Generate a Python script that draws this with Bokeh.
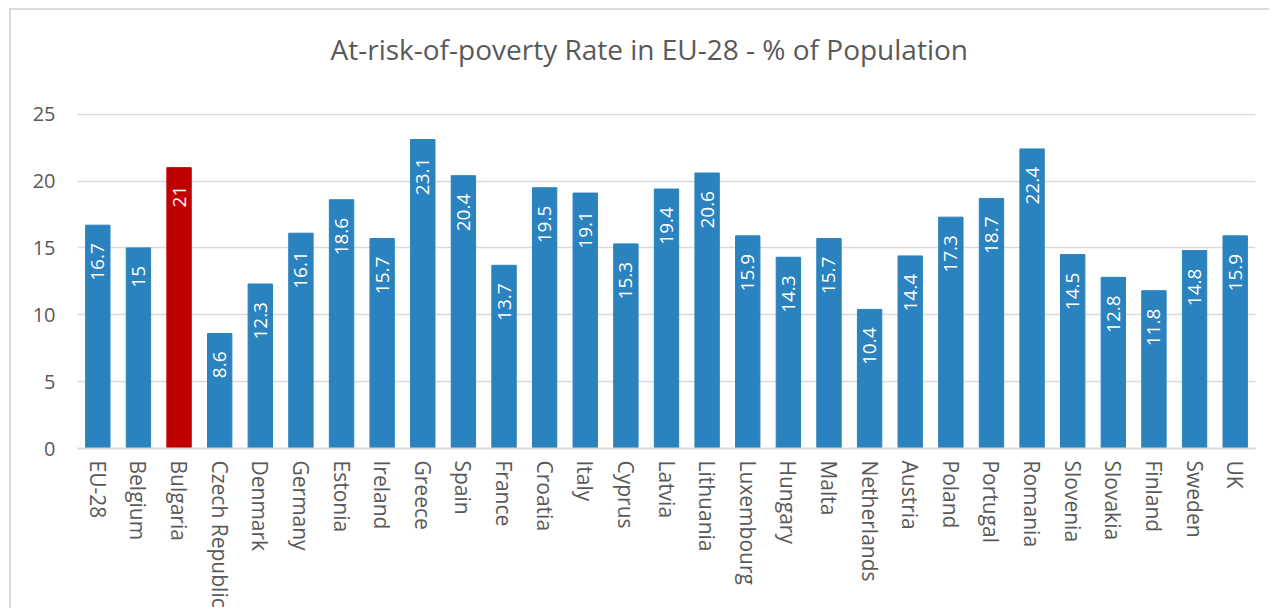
import math
from bokeh.plotting import figure
from bokeh.models import ColumnDataSource, FactorRange, Range1d, LabelSet, Title
from bokeh.core.properties import value
from bokeh.embed import file_html
from bokeh.resources import INLINE

countries = ["EU-28", "Belgium", "Bulgaria", "Czech Republic", "Denmark", "Germany",
             "Estonia", "Ireland", "Greece", "Spain", "France", "Croatia", "Italy",
             "Cyprus", "Latvia", "Lithuania", "Luxembourg", "Hungary", "Malta",
             "Netherlands", "Austria", "Poland", "Portugal", "Romania", "Slovenia",
             "Slovakia", "Finland", "Sweden", "UK"]
rates = [16.7, 15, 21, 8.6, 12.3, 16.1, 18.6, 15.7, 23.1, 20.4, 13.7, 19.5, 19.1,
         15.3, 19.4, 20.6, 15.9, 14.3, 15.7, 10.4, 14.4, 17.3, 18.7, 22.4, 14.5,
         12.8, 11.8, 14.8, 15.9]
highlight = "Bulgaria"
y_ticks = [0, 5, 10, 15, 20, 25]
title_text = "At-risk-of-poverty Rate in EU-28 - % of Population"

BLUE = "#2A82BE"
RED = "#C00000"
GREY_TXT = "#595959"
GRID = "#D9D9D9"
FONT = "Open Sans"

colors = [RED if c == highlight else BLUE for c in countries]
labels = [f"{v:g}" for v in rates]
src = ColumnDataSource(dict(x=countries, top=rates, color=colors, label=labels))

p = figure(width=1260, height=600, output_backend="svg", toolbar_location=None,
           x_range=FactorRange(*countries, range_padding=0),
           y_range=Range1d(0, 25.05),
           min_border_left=66, min_border_right=16, min_border_top=103,
           min_border_bottom=157, title=None)
p.styles = {"border-top": "2px solid #D9D9D9", "border-left": "2px solid #D9D9D9",
            "margin-left": "9px", "margin-top": "8px"}

spacer = Title(text=" ", text_font_size="1px", standoff=26)
main_title = Title(text=title_text, align="left", offset=253, vertical_align="middle",
                   text_font=FONT, text_font_size="28px", text_font_style="normal",
                   text_color=GREY_TXT, standoff=32)
p.add_layout(spacer, "above")
p.add_layout(main_title, "above")

p.vbar(x="x", top="top", width=0.6, color="color", source=src)

lbl = LabelSet(x="x", y="top", text="label", source=src, angle=math.pi / 2,
               text_align="right", text_baseline="middle", y_offset=-18,
               text_color="white", text_font_size="19px", text_font=value(FONT))
p.add_layout(lbl)

p.outline_line_color = None
p.xgrid.grid_line_color = None
p.ygrid.grid_line_color = GRID
p.ygrid.grid_line_width = 1.5
p.yaxis.ticker = y_ticks

p.yaxis.axis_line_color = None
p.yaxis.major_tick_line_color = None
p.yaxis.minor_tick_line_color = None
p.yaxis.major_tick_out = 0
p.yaxis.major_label_standoff = 22
p.yaxis.major_label_text_font = FONT
p.yaxis.major_label_text_font_size = "20px"
p.yaxis.major_label_text_color = GREY_TXT

p.xaxis.axis_line_color = GRID
p.xaxis.axis_line_width = 2
p.xaxis.major_tick_line_color = None
p.xaxis.major_tick_out = 0
p.xaxis.major_label_standoff = 12
p.xaxis.major_label_orientation = "vertical"
p.xaxis.major_label_text_font = FONT
p.xaxis.major_label_text_font_size = "21px"
p.xaxis.major_label_text_color = GREY_TXT

open("out.html", "w").write(file_html(p, INLINE))
